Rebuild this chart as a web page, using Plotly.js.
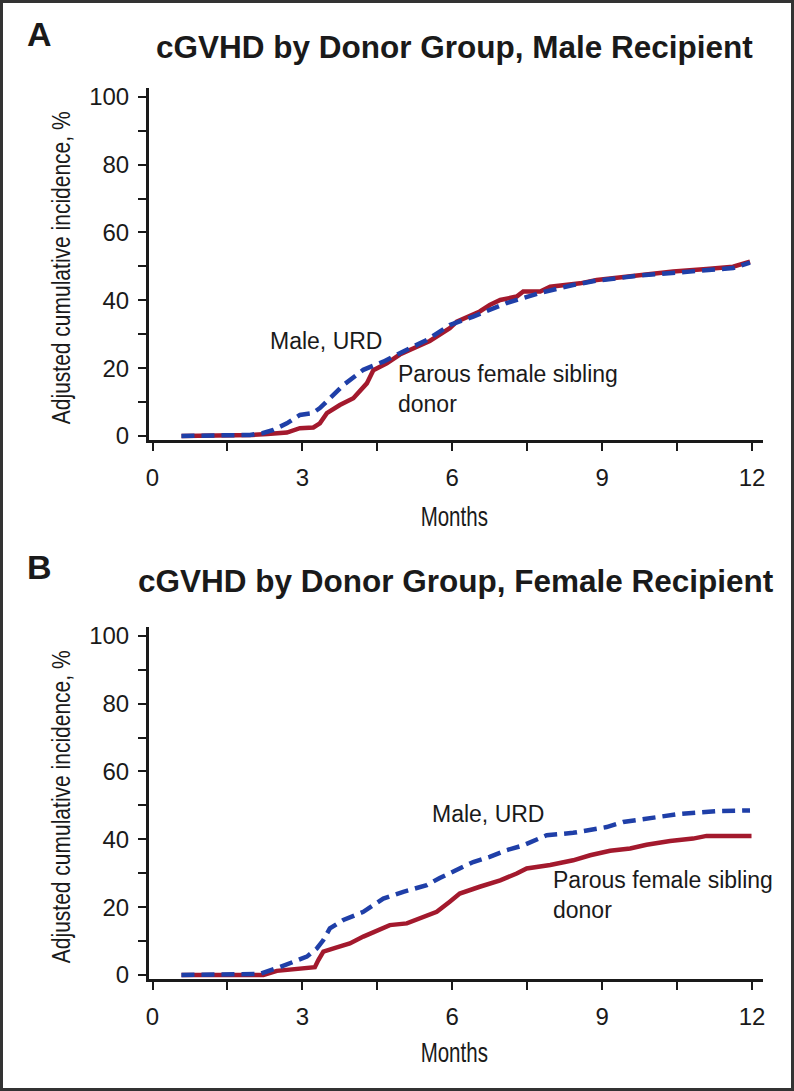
<!DOCTYPE html>
<html>
<head>
<meta charset="utf-8">
<script src="https://cdn.plot.ly/plotly-3.0.1.min.js"></script>
<style>
  html, body { margin: 0; padding: 0; background: #fff; }
  #wrap { position: relative; width: 794px; height: 1091px; }
  #chart { position: absolute; left: 0; top: 0; width: 794px; height: 1091px; }
  #frame { position: absolute; left: 0; top: 0; width: 794px; height: 1091px; box-sizing: border-box; border: 3px solid #333; pointer-events: none; }
</style>
</head>
<body>
<div id="wrap"><div id="chart"></div><div id="frame"></div></div>
<script>
// ---- Data (months, adjusted cumulative incidence %) ----
// Panel A: male recipient
const maleRecip_URD_months = [0.58, 1.0, 1.5, 1.95, 2.2, 2.42, 2.69, 2.95, 3.2, 3.35, 3.58, 3.82, 4.22, 4.62, 5.02, 5.49, 5.95, 6.42, 7.09, 7.76, 8.42, 8.89, 9.76, 10.42, 11.09, 11.62, 11.96];
const maleRecip_URD_pct    = [0, 0, 0, 0.3, 0.8, 1.8, 3.7, 6.2, 6.7, 8.2, 11.5, 15.0, 19.5, 21.9, 24.9, 28.3, 32.7, 35.2, 39.2, 42.2, 44.5, 45.8, 47.3, 48.0, 48.8, 49.5, 51.1];
const maleRecip_Parous_months = [0.58, 1.0, 1.5, 2.0, 2.3, 2.69, 2.95, 3.22, 3.35, 3.49, 3.75, 4.02, 4.29, 4.42, 4.69, 4.95, 5.25, 5.55, 5.95, 6.09, 6.55, 6.75, 6.96, 7.29, 7.42, 7.76, 7.96, 8.56, 8.89, 9.76, 10.42, 11.09, 11.62, 11.96];
const maleRecip_Parous_pct    = [0, 0, 0, 0.3, 0.6, 1.0, 2.3, 2.5, 3.7, 6.7, 9.1, 11.1, 15.5, 19.4, 21.4, 24.0, 26.0, 28.0, 31.8, 33.7, 36.7, 38.6, 40.1, 41.1, 42.6, 42.6, 44.0, 45.0, 46.0, 47.5, 48.5, 49.2, 49.9, 51.4];
// Panel B: female recipient
const femaleRecip_URD_months = [0.58, 1.0, 1.5, 2.15, 2.55, 2.82, 3.09, 3.29, 3.42, 3.55, 3.82, 4.22, 4.62, 5.02, 5.49, 5.75, 6.09, 6.42, 6.75, 7.09, 7.42, 7.72, 7.89, 8.42, 8.76, 9.09, 9.42, 9.76, 10.09, 10.56, 11.29, 11.96];
const femaleRecip_URD_pct    = [0, 0, 0, 0.3, 2.3, 3.9, 5.4, 7.8, 10.3, 13.7, 16.2, 18.6, 22.5, 24.5, 26.5, 28.6, 30.9, 33.3, 34.8, 36.8, 38.2, 39.9, 41.2, 41.9, 42.6, 43.6, 45.1, 45.8, 46.8, 47.5, 48.3, 48.5];
const femaleRecip_Parous_months = [0.58, 1.0, 1.5, 2.22, 2.49, 2.95, 3.25, 3.32, 3.42, 3.69, 3.95, 4.22, 4.49, 4.75, 5.09, 5.42, 5.69, 5.95, 6.15, 6.55, 6.96, 7.29, 7.49, 7.96, 8.42, 8.76, 9.16, 9.56, 9.89, 10.36, 10.82, 11.09, 11.99];
const femaleRecip_Parous_pct    = [0, 0, 0, 0, 1.2, 1.7, 2.3, 4.4, 6.9, 8.1, 9.3, 11.3, 13.2, 14.7, 15.2, 17.1, 18.6, 21.6, 24.0, 26.0, 27.9, 29.9, 31.4, 32.4, 33.8, 35.3, 36.6, 37.3, 38.4, 39.5, 40.2, 41.0, 41.0];

const xTickVals = [0, 1.5, 3, 4.5, 6, 7.5, 9, 10.5, 12];
const xTickText = ['0', '', '3', '', '6', '', '9', '', '12'];
const yTickVals = [0, 10, 20, 30, 40, 50, 60, 70, 80, 90, 100];
const yTickText = ['0', '', '20', '', '40', '', '60', '', '80', '', '100'];

const panelTitles = ['cGVHD by Donor Group, Male Recipient', 'cGVHD by Donor Group, Female Recipient'];
const panelLetters = ['A', 'B'];
const seriesLabels = ['Male, URD', 'Parous female sibling<br>donor'];
const xTitle = 'Months';
const yTitle = 'Adjusted cumulative incidence, %';

// ---- Styling ----
const W = 794, H = 1091;
const px = v => v / W;
const py = v => 1 - v / H;
const RED = '#A3192D', BLUE = '#1F3FA8', INK = '#1a1a1a';
const FONT = 'Liberation Sans, Arial, sans-serif';

function redTrace(x, y, xa, ya) {
  return { x, y, xaxis: xa, yaxis: ya, type: 'scatter', mode: 'lines',
    line: { color: RED, width: 4.5, shape: 'linear' }, hoverinfo: 'skip', showlegend: false };
}
function blueTrace(x, y, xa, ya) {
  return { x, y, xaxis: xa, yaxis: ya, type: 'scatter', mode: 'lines',
    line: { color: BLUE, width: 4.5, dash: '13px,7px', shape: 'linear' }, hoverinfo: 'skip', showlegend: false };
}

const data = [
  redTrace(maleRecip_Parous_months, maleRecip_Parous_pct, 'x', 'y'),
  blueTrace(maleRecip_URD_months, maleRecip_URD_pct, 'x', 'y'),
  redTrace(femaleRecip_Parous_months, femaleRecip_Parous_pct, 'x2', 'y2'),
  blueTrace(femaleRecip_URD_months, femaleRecip_URD_pct, 'x2', 'y2'),
];

function xAxis(anchor) {
  return { domain: [px(149), px(763)], range: [-0.07, 12.22], anchor,
    tickmode: 'array', tickvals: xTickVals, ticktext: xTickText,
    ticks: 'outside', ticklen: 8, tickwidth: 2, tickcolor: INK,
    showline: true, linewidth: 3, linecolor: INK, showgrid: false, zeroline: false,
    ticklabelstandoff: 6,
    tickfont: { family: FONT, size: 24, color: INK }, fixedrange: true };
}
function yAxis(anchor, top, bottom) {
  return { domain: [py(bottom), py(top)], range: [-1.2, 102.6], anchor,
    tickmode: 'array', tickvals: yTickVals, ticktext: yTickText,
    ticks: 'outside', ticklen: 8, tickwidth: 2, tickcolor: INK,
    showline: true, linewidth: 3, linecolor: INK, showgrid: false, zeroline: false,
    ticklabelstandoff: 4,
    tickfont: { family: FONT, size: 24, color: INK }, fixedrange: true };
}

const ann = [];
const condensedIdx = [];
function txt(text, x, y, opts, condensed) {
  if (condensed) condensedIdx.push([ann.length, condensed]);
  ann.push(Object.assign({ text, x, y, xref: 'paper', yref: 'paper', showarrow: false,
    xanchor: 'center', yanchor: 'middle', font: { family: FONT, size: 23, color: INK } }, opts || {}));
}
const panels = [
  { top: 88, bottom: 440, letterY: 34, titleY: 47, titleX: 454, monthsY: 517 },
  { top: 627, bottom: 979, letterY: 567, titleY: 581, titleX: 456, monthsY: 1053 },
];
panels.forEach((p, i) => {
  txt('<b>' + panelLetters[i] + '</b>', px(39), py(p.letterY), { font: { family: FONT, size: 34, color: INK } });
  txt('<b>' + panelTitles[i] + '</b>', px(p.titleX), py(p.titleY), { font: { family: FONT, size: 31.5, color: INK } });
  txt(xTitle, px(455), py(p.monthsY), { font: { family: FONT, size: 27, color: INK } }, 0.76);
  txt(yTitle, px(61), py((p.top + p.bottom) / 2 + 4), { textangle: -90, font: { family: FONT, size: 25, color: INK } }, 0.84);
});
// curve labels in data coordinates
const lblFont = { family: FONT, size: 23, color: INK };
ann.push({ text: seriesLabels[0], x: 2.31, y: 28, xref: 'x', yref: 'y', showarrow: false, xanchor: 'left', yanchor: 'middle', font: lblFont });
ann.push({ text: seriesLabels[1], x: 4.87, y: 13.9, xref: 'x', yref: 'y', showarrow: false, xanchor: 'left', yanchor: 'middle', align: 'left', font: lblFont });
ann.push({ text: seriesLabels[0], x: 5.55, y: 47.5, xref: 'x2', yref: 'y2', showarrow: false, xanchor: 'left', yanchor: 'middle', font: lblFont });
ann.push({ text: seriesLabels[1], x: 7.98, y: 23.5, xref: 'x2', yref: 'y2', showarrow: false, xanchor: 'left', yanchor: 'middle', align: 'left', font: lblFont });

const layout = {
  width: W, height: H,
  margin: { l: 0, r: 0, t: 0, b: 0 },
  paper_bgcolor: '#fff', plot_bgcolor: '#fff',
  showlegend: false,
  xaxis: xAxis('y'), yaxis: yAxis('x', panels[0].top, panels[0].bottom),
  xaxis2: xAxis('y2'), yaxis2: yAxis('x2', panels[1].top, panels[1].bottom),
  annotations: ann,
};

Plotly.newPlot('chart', data, layout, { staticPlot: true, displayModeBar: false }).then(gd => {
  // emulate a condensed face for the axis titles (no condensed font installed)
  condensedIdx.forEach(([idx, s]) => {
    const g = gd.querySelector('.annotation[data-index="' + idx + '"]');
    if (!g) return;
    const t = g.querySelector('text.annotation-text');
    if (!t) return;
    const bb = t.getBBox();
    const cx = bb.x + bb.width / 2;
    t.setAttribute('transform', 'translate(' + cx + ',0) scale(' + s + ',1) translate(' + (-cx) + ',0)');
  });
});
</script>
</body>
</html>
